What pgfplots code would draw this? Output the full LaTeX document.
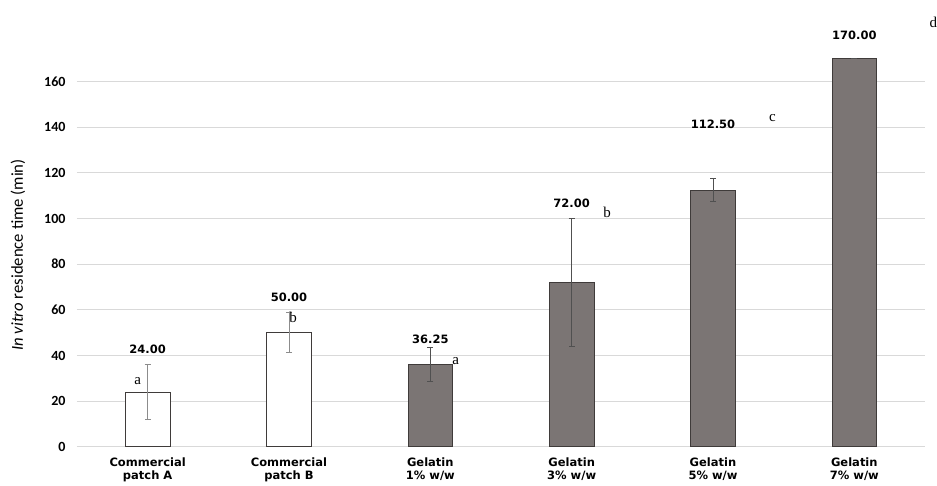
\documentclass[border=0pt]{standalone}
\usepackage{fontspec}
\setmainfont{DejaVu Sans}
\newfontfamily\carlito{Carlito}
\newfontfamily\timesf{Liberation Serif}
\usepackage{pgfplots}
\pgfplotsset{compat=1.18}
\definecolor{barfill}{HTML}{7B7574}
\definecolor{baredge}{HTML}{3F3B3A}
\definecolor{gridc}{HTML}{D9D9D9}
\definecolor{errA}{HTML}{8C8C8C}
\definecolor{errG}{HTML}{505050}
\begin{document}
\begin{tikzpicture}
\begin{axis}[name=ax, scale only axis, width=848pt, height=410.8pt,
  xmin=-0.5, xmax=5.5, ymin=0, ymax=180,
  ytick={0,20,...,160}, xtick={0,...,5},
  xticklabels={{Commercial\\patch A},{Commercial\\patch B},{Gelatin\\1\% w/w},{Gelatin\\3\% w/w},{Gelatin\\5\% w/w},{Gelatin\\7\% w/w}},
  axis line style={draw=none}, major tick length=0pt,
  ymajorgrids, grid style={draw=gridc, line width=0.9pt},
  ybar, bar width=44.6pt, bar shift=0pt,
  clip=false,
  /pgf/number format/assume math mode=true,
  yticklabel style={font=\carlito\bfseries\fontsize{14}{15}\selectfont, xshift=-8pt},
  xticklabel style={font=\bfseries\fontsize{11.5}{13.5}\selectfont, align=center, yshift=-7pt},
  ylabel={{\itshape In vitro} residence time (min)},
  ylabel style={font=\carlito\fontsize{16.7}{18}\selectfont, at={(axis description cs:-0.0696,0.467)}, anchor=center},
]
\addplot[draw=baredge, fill=white, line width=0.8pt,
  error bars/.cd, y dir=both, y explicit,
  error bar style={draw=errA, line width=0.8pt},
  error mark options={rotate=90, mark size=3pt, draw=errA, line width=0.8pt}]
  coordinates {(0,24) +- (0,12) (1,50) +- (0,8.75)};
\addplot[draw=baredge, fill=barfill, line width=0.8pt,
  error bars/.cd, y dir=both, y explicit,
  error bar style={draw=errG, line width=0.8pt},
  error mark options={rotate=90, mark size=3pt, draw=errG, line width=0.8pt}]
  coordinates {(2,36.25) +- (0,7.5) (3,72) +- (0,28) (4,112.5) +- (0,5) (5,170) +- (0,0)};
\begin{scope}[every node/.style={font=\bfseries\fontsize{11.5}{13}\selectfont}]
\node at (axis cs:0,42.5) {24.00};
\node at (axis cs:1,65.4) {50.00};
\node at (axis cs:2,47.2) {36.25};
\node at (axis cs:3,106.8) {72.00};
\node at (axis cs:4,141.1) {112.50};
\node at (axis cs:5,180.5) {170.00};
\end{scope}
\begin{scope}[every node/.style={font=\timesf\fontsize{15}{17}\selectfont}]
\node at (axis cs:-0.07,29) {a};
\node at (axis cs:1.03,56.5) {b};
\node at (axis cs:2.18,37.4) {a};
\node at (axis cs:3.25,102.5) {b};
\node at (axis cs:4.42,144) {c};
\node at (axis cs:5.56,186) {d};
\end{scope}
\end{axis}
\pgfresetboundingbox
\path ([xshift=-77pt,yshift=-39pt]ax.south west) rectangle ([xshift=12pt,yshift=36pt]ax.north east);
\end{tikzpicture}
\end{document}
